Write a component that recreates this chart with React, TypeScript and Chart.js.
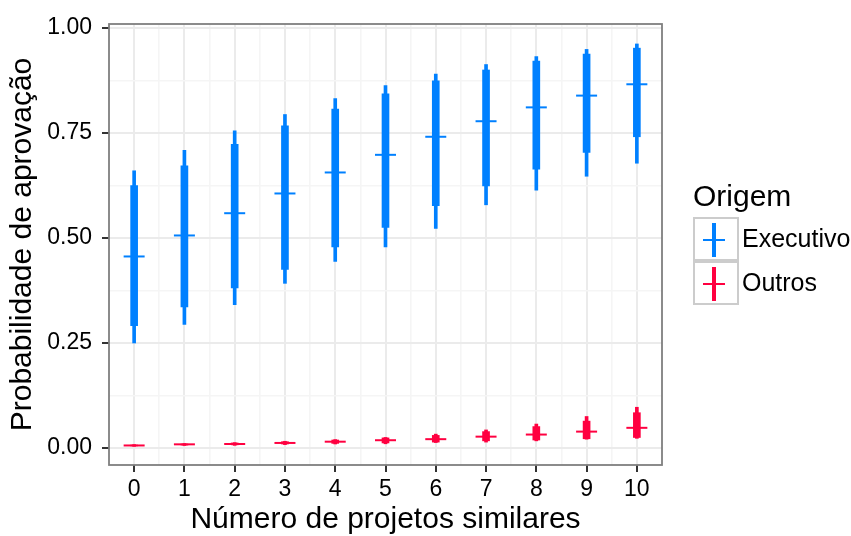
import React, { useEffect, useRef } from "react";
import { Chart, registerables } from "chart.js";

Chart.register(...registerables);

const categories = [0, 1, 2, 3, 4, 5, 6, 7, 8, 9, 10];

const execMedian = [0.456, 0.506, 0.559, 0.606, 0.656, 0.698, 0.741, 0.778, 0.811, 0.839, 0.866];
const execInnerLo = [0.291, 0.336, 0.381, 0.425, 0.479, 0.525, 0.577, 0.624, 0.664, 0.704, 0.741];
const execInnerHi = [0.625, 0.672, 0.723, 0.767, 0.807, 0.843, 0.874, 0.9, 0.921, 0.938, 0.952];
const execOuterLo = [0.25, 0.294, 0.341, 0.392, 0.444, 0.479, 0.523, 0.579, 0.614, 0.647, 0.678];
const execOuterHi = [0.66, 0.709, 0.755, 0.794, 0.832, 0.863, 0.89, 0.913, 0.932, 0.949, 0.962];

const outrosMedian = [0.006, 0.0087, 0.0095, 0.012, 0.015, 0.0185, 0.021, 0.027, 0.032, 0.039, 0.048];
const outrosInnerLo = [0.005, 0.007, 0.0075, 0.0095, 0.011, 0.012, 0.014, 0.017, 0.019, 0.022, 0.025];
const outrosInnerHi = [0.007, 0.0095, 0.012, 0.015, 0.019, 0.024, 0.03, 0.039, 0.051, 0.064, 0.084];
const outrosOuterLo = [0.004, 0.006, 0.0063, 0.008, 0.0095, 0.01, 0.013, 0.014, 0.017, 0.021, 0.023];
const outrosOuterHi = [0.008, 0.0105, 0.0127, 0.016, 0.02, 0.025, 0.033, 0.043, 0.057, 0.075, 0.097];

const yTickValues = [0, 0.125, 0.25, 0.375, 0.5, 0.625, 0.75, 0.875, 1];
const xTickValues = [-0.5, 0, 0.5, 1, 1.5, 2, 2.5, 3, 3.5, 4, 4.5, 5, 5.5, 6, 6.5, 7, 7.5, 8, 8.5, 9, 9.5, 10, 10.5];

const seriesNames = ["Executivo", "Outros"];
const BLUE = "#0080FF";
const RED = "#FF0040";
const FONT = "'Liberation Sans', Arial, sans-serif";

const range = (lo: number[], hi: number[]) => categories.map((c, i) => ({ x: c, y: [lo[i], hi[i]] }));
const pts = (v: number[]) => categories.map((c, i) => ({ x: c, y: v[i] }));

const isMajorY = (v: number) => Math.abs(v * 4 - Math.round(v * 4)) < 1e-6;
const isMajorX = (v: number) => Math.abs(v - Math.round(v)) < 1e-6 && v >= 0 && v <= 10;

const borderPlugin = {
  id: "panelBorder",
  afterDraw(chart: any) {
    const { ctx, chartArea } = chart;
    ctx.save();
    ctx.strokeStyle = "#7F7F7F";
    ctx.lineWidth = 1.8;
    ctx.strokeRect(chartArea.left, chartArea.top, chartArea.right - chartArea.left, chartArea.bottom - chartArea.top);
    ctx.restore();
  },
};

function App() {
  const ref = useRef<HTMLCanvasElement | null>(null);

  useEffect(() => {
    document.body.style.margin = "0";
    if (!ref.current) return;
    const mk = (color: string, med: number[], iLo: number[], iHi: number[], oLo: number[], oHi: number[]) => [
      {
        type: "scatter",
        data: pts(med),
        showLine: false,
        pointStyle: "line",
        pointRadius: 10.5,
        borderWidth: 2,
        borderColor: color,
        backgroundColor: color,
        order: 0,
      },
      {
        type: "bar",
        data: range(iLo, iHi),
        backgroundColor: color,
        borderWidth: 0,
        barThickness: 7,
        grouped: false,
        order: 1,
      },
      {
        type: "bar",
        data: range(oLo, oHi),
        backgroundColor: color,
        borderWidth: 0,
        barThickness: 3,
        grouped: false,
        order: 2,
      },
    ];
    const chart = new Chart(ref.current, {
      type: "bar",
      data: {
        datasets: [
          ...mk(BLUE, execMedian, execInnerLo, execInnerHi, execOuterLo, execOuterHi),
          ...mk(RED, outrosMedian, outrosInnerLo, outrosInnerHi, outrosOuterLo, outrosOuterHi),
        ] as any,
      },
      options: {
        animation: false,
        responsive: false,
        events: [],
        layout: { padding: { left: 0, top: 24, right: 189, bottom: 0 } },
        plugins: { legend: { display: false }, tooltip: { enabled: false } },
        scales: {
          x: {
            type: "linear",
            min: -0.5,
            max: 10.5,
            offset: false,
            afterBuildTicks: (s: any) => {
              s.ticks = xTickValues.map((v) => ({ value: v }));
            },
            afterFit: (s: any) => {
              s.height = 71;
            },
            grid: {
              offset: false,
              drawTicks: true,
              tickLength: 7,
              tickWidth: 2,
              color: (c: any) =>
                c.tick && (c.tick.value === -0.5 || c.tick.value === 10.5)
                  ? "rgba(0,0,0,0)"
                  : c.tick && isMajorX(c.tick.value)
                  ? "#EBEBEB"
                  : "#F5F5F5",
              lineWidth: (c: any) => (c.tick && isMajorX(c.tick.value) ? 2 : 1.6),
              tickColor: (c: any) => (c.tick && isMajorX(c.tick.value) ? "#333333" : "rgba(0,0,0,0)"),
            },
            border: { display: false },
            ticks: {
              autoSkip: false,
              maxRotation: 0,
              padding: 4,
              color: "#000000",
              font: { family: FONT, size: 23 },
              callback: (v: any) => (isMajorX(Number(v)) ? String(Math.round(Number(v))) : ""),
            },
            title: {
              display: true,
              text: "Número de projetos similares",
              color: "#000000",
              font: { family: FONT, size: 30, lineHeight: 1 },
              padding: { top: 0, bottom: 1 },
            },
          },
          y: {
            type: "linear",
            min: -0.0405,
            max: 1.0095,
            afterBuildTicks: (s: any) => {
              s.ticks = yTickValues.map((v) => ({ value: v }));
            },
            afterFit: (s: any) => {
              s.width = 109;
            },
            grid: {
              drawTicks: true,
              tickLength: 7,
              tickWidth: 2,
              color: (c: any) => (c.tick && isMajorY(c.tick.value) ? "#EBEBEB" : "#F5F5F5"),
              lineWidth: (c: any) => (c.tick && isMajorY(c.tick.value) ? 2 : 1.6),
              tickColor: (c: any) => (c.tick && isMajorY(c.tick.value) ? "#333333" : "rgba(0,0,0,0)"),
            },
            border: { display: false },
            ticks: {
              autoSkip: false,
              padding: 10,
              color: "#000000",
              font: { family: FONT, size: 23 },
              callback: (v: any) => (isMajorY(Number(v)) ? Number(v).toFixed(2) : ""),
            },
            title: {
              display: true,
              text: "Probabilidade de aprovação",
              color: "#000000",
              font: { family: FONT, size: 30, lineHeight: 1 },
              padding: { top: 8, bottom: 0 },
            },
          },
        },
      } as any,
      plugins: [borderPlugin],
    });
    return () => chart.destroy();
  }, []);

  const keyBox = (top: number, color: string) => (
    <div
      style={{
        position: "absolute",
        left: 693,
        top,
        width: 46,
        height: 44,
        boxSizing: "border-box",
        border: "2px solid #CCCCCC",
        background: "#FFFFFF",
      }}
    >
      <div style={{ position: "absolute", left: 17, top: 4, width: 4, height: 34, background: color }} />
      <div style={{ position: "absolute", left: 8, top: 20, width: 22, height: 2, background: color }} />
    </div>
  );

  const label = (top: number, text: string) => (
    <div
      style={{
        position: "absolute",
        left: 742,
        top,
        fontFamily: FONT,
        fontSize: 25,
        lineHeight: "25px",
        color: "#000",
        whiteSpace: "nowrap",
      }}
    >
      {text}
    </div>
  );

  return (
    <div style={{ position: "relative", width: 851, height: 536, background: "#FFFFFF", overflow: "hidden" }}>
      <canvas ref={ref} width={851} height={536} style={{ position: "absolute", left: 0, top: 0 }} />
      <div
        style={{
          position: "absolute",
          left: 693,
          top: 181,
          fontFamily: FONT,
          fontSize: 30,
          lineHeight: "30px",
          color: "#000",
          whiteSpace: "nowrap",
        }}
      >
        Origem
      </div>
      {keyBox(217, BLUE)}
      {keyBox(261, RED)}
      {label(226, seriesNames[0])}
      {label(270, seriesNames[1])}
    </div>
  );
}

export default App;
